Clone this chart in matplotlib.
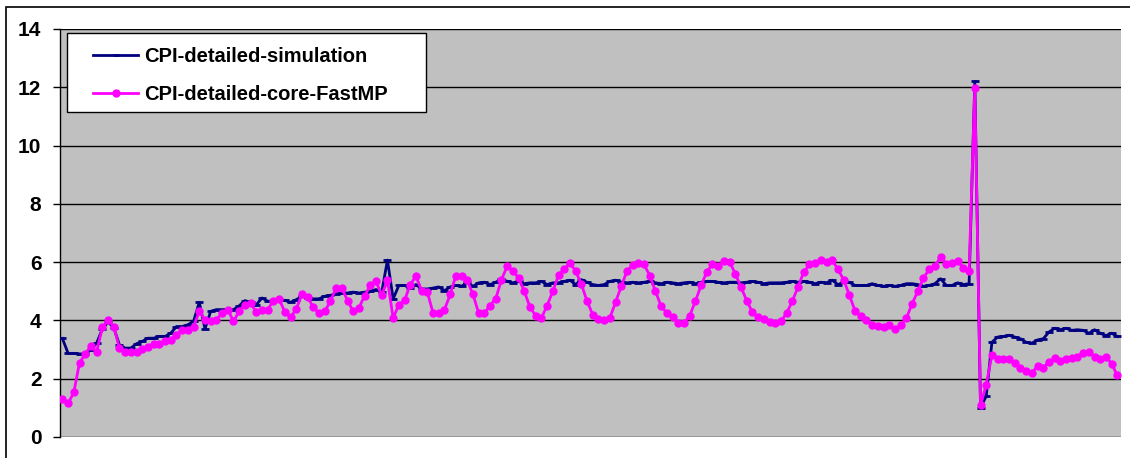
import matplotlib.pyplot as plt
from matplotlib.patches import Rectangle

plt.rcParams['font.family'] = ['Liberation Sans', 'DejaVu Sans']

cpi_sim = [
    3.38, 2.87, 2.87, 2.85, 2.85, 2.99, 3.22, 3.70, 3.95, 3.75,
    3.16, 3.05, 3.05, 3.20, 3.28, 3.39, 3.39, 3.45, 3.45, 3.56,
    3.79, 3.79, 3.85, 3.97, 4.62, 3.71, 4.31, 4.37, 4.37, 4.37,
    4.37, 4.50, 4.68, 4.62,
    4.54, 4.77, 4.66, 4.66, 4.69, 4.69, 4.62, 4.71, 4.83, 4.77,
    4.74, 4.74, 4.83, 4.86, 4.91, 4.94, 4.94, 4.97, 4.94, 4.97,
    5.00, 5.06, 4.97, 6.07, 4.74, 5.20, 5.20, 5.11, 5.23, 5.08,
    5.08, 5.11, 5.15,
    5.02, 5.15, 5.20, 5.17, 5.31, 5.17, 5.29, 5.31, 5.23, 5.31,
    5.43, 5.34, 5.29, 5.34, 5.26, 5.29, 5.29, 5.34, 5.23, 5.29,
    5.29, 5.34, 5.38, 5.23, 5.40, 5.31, 5.23, 5.20, 5.23, 5.34,
    5.38, 5.31, 5.29, 5.31,
    5.29, 5.31, 5.34, 5.29, 5.26, 5.31, 5.29, 5.26, 5.29, 5.31,
    5.26, 5.31, 5.34, 5.34, 5.31, 5.29, 5.31, 5.31, 5.29, 5.31,
    5.34, 5.31, 5.26, 5.29, 5.29, 5.29, 5.31, 5.34, 5.31, 5.34,
    5.31, 5.26, 5.31,
    5.29, 5.38, 5.23, 5.31, 5.31, 5.20, 5.20, 5.20, 5.26, 5.20,
    5.17, 5.20, 5.17, 5.20, 5.26, 5.26, 5.23, 5.17, 5.20, 5.26,
    5.43, 5.20, 5.20, 5.29, 5.23, 5.26, 12.20,
    1.01, 1.40, 3.25, 3.43, 3.45, 3.49, 3.43, 3.37, 3.25, 3.22,
    3.33, 3.37, 3.60, 3.73, 3.68, 3.73, 3.66, 3.68, 3.66, 3.56,
    3.68, 3.56, 3.48, 3.56, 3.45,
]

cpi_fastmp = [
    1.30, 1.15, 1.53, 2.55, 2.84, 3.13, 2.91, 3.76, 4.01, 3.79,
    3.05, 2.93, 2.93, 2.93, 3.01, 3.10, 3.18, 3.18, 3.30, 3.33,
    3.51, 3.66, 3.68, 3.79, 4.31, 4.02, 3.97, 4.02, 4.25, 4.37,
    3.97, 4.31, 4.54, 4.60,
    4.28, 4.37, 4.37, 4.68, 4.74, 4.29, 4.10, 4.39, 4.89, 4.80,
    4.45, 4.25, 4.31, 4.66, 5.11, 5.11, 4.68, 4.31, 4.43, 4.85,
    5.20, 5.34, 4.86, 5.38, 4.08, 4.54, 4.69, 5.23, 5.52, 5.02,
    4.97, 4.25, 4.25,
    4.37, 4.89, 5.54, 5.54, 5.37, 4.89, 4.25, 4.25, 4.51, 4.75,
    5.40, 5.86, 5.69, 5.46, 5.00, 4.45, 4.16, 4.08, 4.51, 5.00,
    5.55, 5.75, 5.98, 5.69, 5.25, 4.66, 4.20, 4.05, 4.00, 4.08,
    4.63, 5.17, 5.69, 5.89,
    5.98, 5.92, 5.54, 5.00, 4.48, 4.25, 4.11, 3.91, 3.91, 4.16,
    4.66, 5.20, 5.66, 5.94, 5.86, 6.03, 6.01, 5.60, 5.14, 4.68,
    4.28, 4.11, 4.05, 3.93, 3.91, 3.97, 4.25, 4.66, 5.15, 5.66,
    5.92, 5.98, 6.06,
    6.01, 6.06, 5.75, 5.40, 4.86, 4.33, 4.14, 4.00, 3.83, 3.82,
    3.79, 3.83, 3.71, 3.83, 4.08, 4.57, 5.00, 5.46, 5.75, 5.86,
    6.18, 5.93, 5.98, 6.04, 5.81, 5.70, 11.99,
    1.09, 1.79, 2.82, 2.66, 2.68, 2.66, 2.55, 2.35, 2.27, 2.20,
    2.43, 2.38, 2.58, 2.70, 2.60, 2.66, 2.71, 2.74, 2.88, 2.91,
    2.76, 2.68, 2.76, 2.51, 2.11,
]

y_ticks = [0, 2, 4, 6, 8, 10, 12, 14]

x = list(range(len(cpi_sim)))

fig = plt.figure(figsize=(11.3, 4.58), dpi=100)
ax = fig.add_axes([0.0527, 0.0459, 0.9389, 0.8908])

# outer chart border (cut off at right and bottom in the original)
fig.patches.append(Rectangle((0.0053, -0.1), 1.2, 1.085, transform=fig.transFigure,
                             fill=False, edgecolor='black', linewidth=1.2))

ax.set_facecolor('#C0C0C0')
ax.plot(x, cpi_sim, color='#000080', linewidth=2, marker='_', markersize=6,
        markeredgewidth=2, label='CPI-detailed-simulation', zorder=3)
ax.plot(x, cpi_fastmp, color='#FF00FF', linewidth=2, marker='o', markersize=5,
        label='CPI-detailed-core-FastMP', zorder=4)

ax.set_xlim(-0.5, len(x) - 0.45)
ax.set_ylim(0, 14)
ax.set_yticks(y_ticks)
ax.set_yticklabels([str(t) for t in y_ticks], fontsize=15, fontweight='bold')
ax.set_xticks([])
ax.tick_params(axis='y', length=5, width=1, pad=8)
ax.yaxis.grid(True, color='black', linewidth=1)
ax.set_axisbelow(True)

for side in ['top', 'right', 'bottom']:
    ax.spines[side].set_visible(False)
ax.spines['left'].set_linewidth(1)

# legend box drawn separately so its size matches the original
ax.add_patch(Rectangle((0.0071, 0.7966), 0.3383, 0.1934, transform=ax.transAxes,
                       facecolor='white', edgecolor='black', linewidth=1, zorder=5))
leg = ax.legend(loc='upper left', bbox_to_anchor=(0.0316, 0.9557),
                prop={'weight': 'bold', 'size': 14.5}, frameon=False,
                handlelength=2.25, handletextpad=0.3, borderpad=0,
                labelspacing=0.95, borderaxespad=0)
leg.set_zorder(6)
for h in leg.get_lines():
    h.set_linewidth(2)
    h.set_markersize(5)

fig.savefig('out.png', dpi=100)
